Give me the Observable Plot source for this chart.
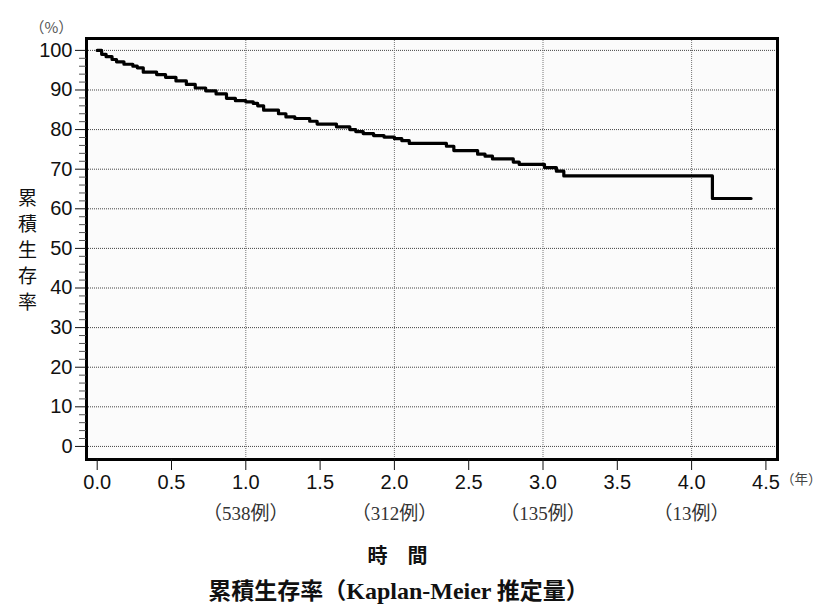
<!DOCTYPE html>
<html>
<head>
<meta charset="utf-8">
<script src="https://cdn.jsdelivr.net/npm/d3@7"></script>
<script src="https://cdn.jsdelivr.net/npm/@observablehq/plot@0.6"></script>
<style>
  body { margin: 0; background: #fff; width: 821px; height: 605px; position: relative; overflow: hidden; }
  #xlab { position: absolute; left: 0; width: 795px; top: 541px; text-align: center;
          font-family: "Noto Sans CJK JP", sans-serif; font-weight: bold; font-size: 20px; line-height: 28px; color: #111; }
  #title { position: absolute; left: 0; width: 797px; top: 573px; text-align: center;
           font-family: "Noto Sans CJK JP", sans-serif; font-weight: bold; font-size: 23px; line-height: 32px; color: #111; }
  #title .ser { font-family: "Liberation Serif", "DejaVu Serif", serif; font-weight: bold; font-size: 24px; }
</style>
</head>
<body>
<div id="chart"></div>
<div id="xlab">時　間</div>
<div id="title">累積生存率（<span class="ser">Kaplan-Meier</span> 推定量）</div>
<script>
// Kaplan-Meier step curve (time in years, cumulative survival %)
const times = [0, 0.03, 0.06, 0.10, 0.13, 0.18, 0.24, 0.27, 0.31, 0.40, 0.46, 0.53, 0.60, 0.66, 0.73, 0.80, 0.87, 0.93, 1.00, 1.05, 1.08, 1.12, 1.22, 1.27, 1.33, 1.43, 1.48, 1.61, 1.70, 1.74, 1.79, 1.86, 1.93, 2.00, 2.05, 2.10, 2.35, 2.40, 2.56, 2.61, 2.66, 2.80, 2.84, 3.01, 3.09, 3.14, 4.14, 4.40];
const survival = [100, 99.0, 98.4, 97.7, 97.1, 96.5, 96.0, 95.6, 94.5, 93.9, 93.2, 92.3, 91.4, 90.5, 89.8, 89.0, 87.9, 87.3, 87.0, 86.6, 86.0, 84.9, 84.0, 83.2, 82.8, 82.1, 81.4, 80.7, 80.0, 79.5, 79.0, 78.5, 78.1, 77.7, 77.2, 76.5, 75.8, 74.7, 73.8, 73.3, 72.6, 71.8, 71.2, 70.4, 69.5, 68.3, 62.6, 62.6];

const xTicks = [0, 0.5, 1.0, 1.5, 2.0, 2.5, 3.0, 3.5, 4.0, 4.5];
const yTicks = [0, 10, 20, 30, 40, 50, 60, 70, 80, 90, 100];
const yMinorTicks = [2,4,6,8,12,14,16,18,22,24,26,28,32,34,36,38,42,44,46,48,52,54,56,58,62,64,66,68,72,74,76,78,82,84,86,88,92,94,96,98];
const xGrid = [1, 2, 3, 4];
const caseX = [1, 2, 3, 4];
const caseLabels = ["（538例）", "（312例）", "（135例）", "（13例）"];

const data = times.map((t, i) => ({t, v: survival[i]}));

const chart = Plot.plot({
  width: 821,
  height: 530,
  marginLeft: 86,
  marginRight: 44,
  marginTop: 38,
  marginBottom: 71,
  style: {fontFamily: "'Liberation Sans', Arial, sans-serif", fontSize: "20px", color: "#111", background: "#fff"},
  x: {domain: [-0.072, 4.578]},
  y: {domain: [-3.3, 103]},
  marks: [
    Plot.frame({fill: "#fbfbfb", stroke: null}),
    Plot.ruleY(yTicks, {stroke: "#444", strokeDasharray: "1,1", strokeWidth: 1}),
    Plot.ruleX(xGrid, {stroke: "#777", strokeDasharray: "1,1", strokeWidth: 1}),
    Plot.line(data, {x: "t", y: "v", curve: "step-after", stroke: "#000", strokeWidth: 3.2}),
    Plot.frame({stroke: "#000", strokeWidth: 3}),
    Plot.axisY(yMinorTicks, {tickSize: 7, tickFormat: () => "", stroke: "#555", label: null}),
    Plot.axisY(yTicks, {tickSize: 11, tickPadding: 3, tickFormat: d3.format("d"), fontSize: 20, label: null, stroke: "#111"}),
    Plot.axisX(xTicks, {tickSize: 11, tickPadding: 4, tickFormat: d3.format(".1f"), fontSize: 20, label: null, stroke: "#111"}),
    Plot.text(caseX, {x: d => d, text: (d, i) => caseLabels[i], frameAnchor: "bottom", dy: 60,
      fontFamily: "'Liberation Serif', 'Noto Sans CJK JP', serif", fontSize: 19, fill: "#333"}),
    Plot.text(["（年）"], {frameAnchor: "bottom-right", dx: 44, dy: 24, textAnchor: "end",
      fontFamily: "'Noto Sans CJK JP', sans-serif", fontSize: 13.5, fill: "#444"}),
    Plot.text(["（%）"], {frameAnchor: "top-left", dx: -57, dy: -16, textAnchor: "start",
      fontFamily: "'Noto Sans CJK JP', sans-serif", fontSize: 15, fill: "#555"}),
    Plot.text(["累\n積\n生\n存\n率"], {frameAnchor: "left", dx: -59, textAnchor: "middle", lineHeight: 1.37,
      fontFamily: "'Noto Sans CJK JP', sans-serif", fontSize: 19, fill: "#111"})
  ]
});
document.getElementById("chart").appendChild(chart);
</script>
</body>
</html>
